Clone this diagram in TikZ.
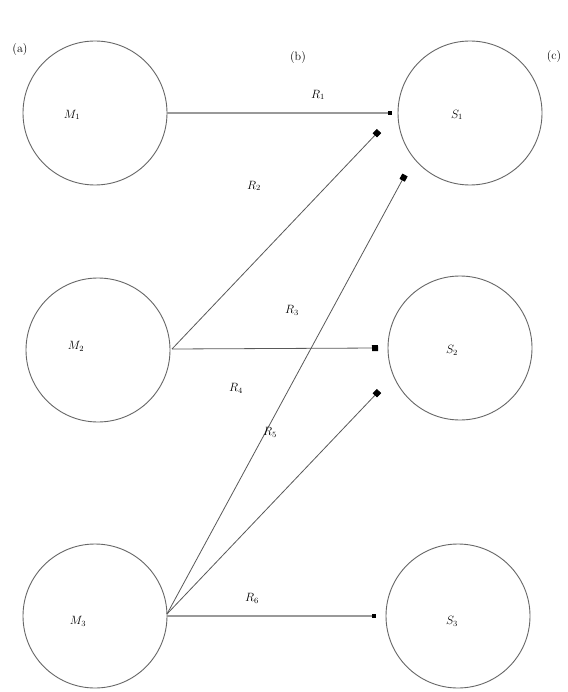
\documentclass[tikz,border=0pt]{standalone}
\usetikzlibrary{arrows.meta}
\begin{document}
\begin{tikzpicture}[x=1pt,y=-1pt,
  stn/.style={circle,draw=black!60,line width=0.9pt,minimum size=144pt,inner sep=0pt},
  lbl/.style={font=\large},
  conn/.style={draw=black!65,line width=0.8pt,-{Square[length=6pt,width=6pt,black]}},
  thick conn/.style={draw=black!40,line width=1.8pt,-{Square[length=4.5pt,width=4.5pt,black]}}]
\useasboundingbox (0,0) rectangle (567,692);
\fill[white] (0,0) rectangle (567,692);
% circles
\node[stn] (M1) at (95,113) {};
\node[stn] (S1) at (470,113) {};
\node[stn] (M2) at (98,350) {};
\node[stn] (S2) at (460,348) {};
\node[stn] (M3) at (95,616) {};
\node[stn] (S3) at (458,616) {};
% circle labels
\node[lbl] (tM1) at (72,115) {$M_1$};
\node[lbl] (tS1) at (457,115) {$S_1$};
\node[lbl] (tM2) at (76,346) {$M_2$};
\node[lbl] (tS2) at (452,350) {$S_2$};
\node[lbl] (tM3) at (78,621) {$M_3$};
\node[lbl] (tS3) at (452,621) {$S_3$};
% column labels
\node[lbl] (ca) at (20,50) {(a)};
\node[lbl] (cb) at (298,58) {(b)};
\node[lbl] (cc) at (554,57) {(c)};
% free ends
\coordinate (e1) at (392,113);
\coordinate (e2) at (379,131);
\coordinate (e3) at (405,175);
\coordinate (e4) at (378,348);
\coordinate (e5) at (379,391);
\coordinate (e6) at (376,616);
\coordinate (m2o) at (172,349);
\coordinate (m3o) at (167,614);
% connectors
\draw[thick conn] (M1.east) -- (e1);
\draw[conn] (m2o) -- (e2);
\draw[conn] (m3o) -- (e3);
\draw[conn] (m2o) -- (e4);
\draw[conn] (m3o) -- (e5);
\draw[thick conn] (M3.east) -- (e6);
% connector labels
\node[lbl] (r1) at (318,95) {$R_1$};
\node[lbl] (r2) at (254,186) {$R_2$};
\node[lbl] (r3) at (292,310) {$R_3$};
\node[lbl] (r4) at (236,388) {$R_4$};
\node[lbl] (r5) at (270,432) {$R_5$};
\node[lbl] (r6) at (252,598) {$R_6$};
\end{tikzpicture}
\end{document}
